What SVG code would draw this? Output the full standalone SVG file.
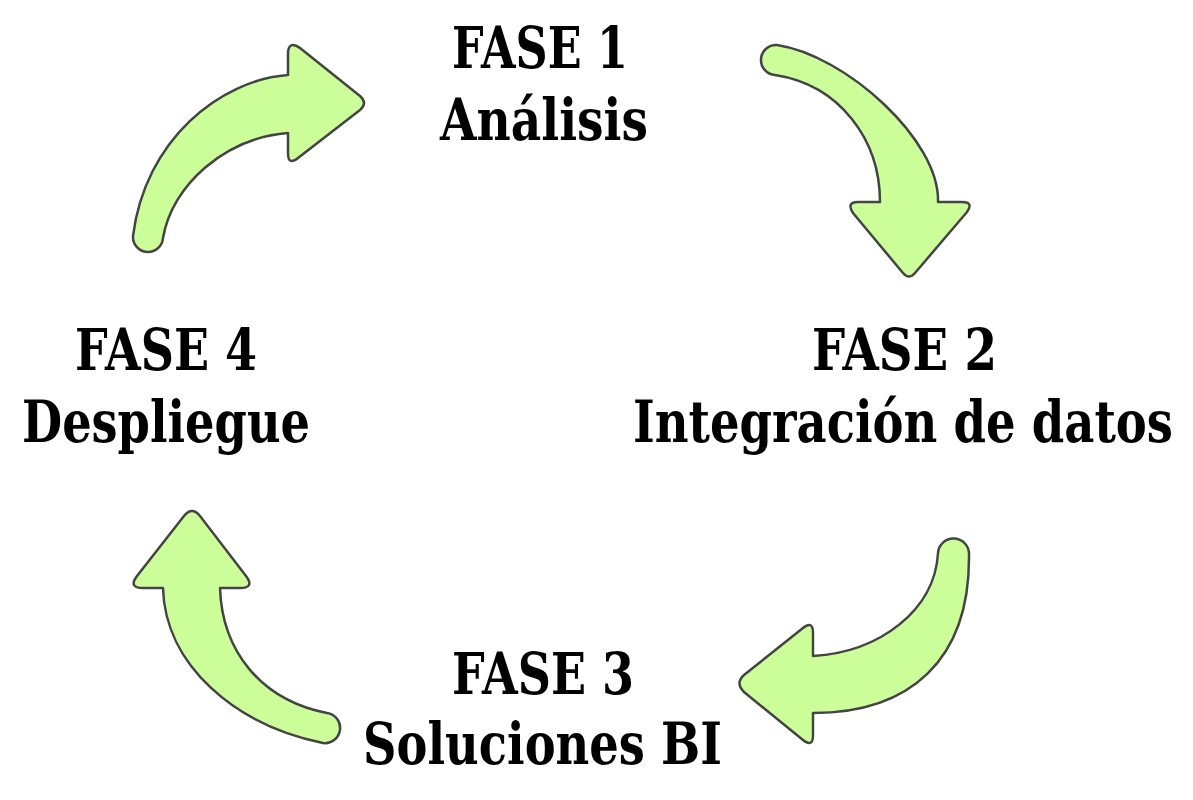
<svg xmlns="http://www.w3.org/2000/svg" width="1193" height="800" viewBox="0 0 1193 800">
<style>
.arrow{fill:#ccff99;stroke:#444444;stroke-width:2.5;stroke-linejoin:round}
.t{font-family:"DejaVu Serif","Liberation Serif",serif;font-weight:bold;font-size:57px;fill:#000;text-anchor:middle}
</style>
<rect width="1193" height="800" fill="#ffffff"/>
<g id="connectors">
<path id="a1" class="arrow" d="M163,238 C172,185 225,138 288,133 L288,153 Q288,166 298,158 L360,110 Q368,103 360,96 L300,48 Q288,40 288,54 L288,75 C220,80 145,140 133,236 A15,15 0 0 0 163,238 Z"/>
<path id="a2" class="arrow" d="M777,45 C845,55 940,140 938,202 L962,202 Q974,202 967,212 L915,273 Q909,280 903,273 L853,213 Q846,202 858,202 L880,202 C880,140 840,85 775,75 A15,15 0 0 1 777,45 Z"/>
<path id="a3" class="arrow" d="M969,555 C970,660 910,713 813,713 L813,735 Q813,748 803,740 L744,692 Q735,683 744,675 L803,628 Q813,620 813,633 L813,656 C880,652 935,610 938,553 A15.5,15.5 0 0 1 969,555 Z"/>
<path id="a4" class="arrow" d="M220,588 C222,650 260,700 327,713 A15,15 0 0 1 323,743 C235,725 165,665 163,588 L143,588 Q128,588 137,576 L184,516 Q192,506 200,516 L246,576 Q255,588 240,588 Z"/>
</g>
<g id="fase1">
<text class="t" x="540" y="68" textLength="176" lengthAdjust="spacingAndGlyphs">FASE 1</text>
<text class="t" x="544" y="140" textLength="208" lengthAdjust="spacingAndGlyphs">Análisis</text>
</g>
<g id="fase2">
<text class="t" x="904.5" y="370" textLength="185" lengthAdjust="spacingAndGlyphs">FASE 2</text>
<text class="t" x="903" y="442" textLength="540" lengthAdjust="spacingAndGlyphs">Integración de datos</text>
</g>
<g id="fase3">
<text class="t" x="543" y="694" textLength="182" lengthAdjust="spacingAndGlyphs">FASE 3</text>
<text class="t" x="542.5" y="764" textLength="359" lengthAdjust="spacingAndGlyphs">Soluciones BI</text>
</g>
<g id="fase4">
<text class="t" x="166" y="370" textLength="182" lengthAdjust="spacingAndGlyphs">FASE 4</text>
<text class="t" x="166" y="442" textLength="288" lengthAdjust="spacingAndGlyphs">Despliegue</text>
</g>
</svg>
